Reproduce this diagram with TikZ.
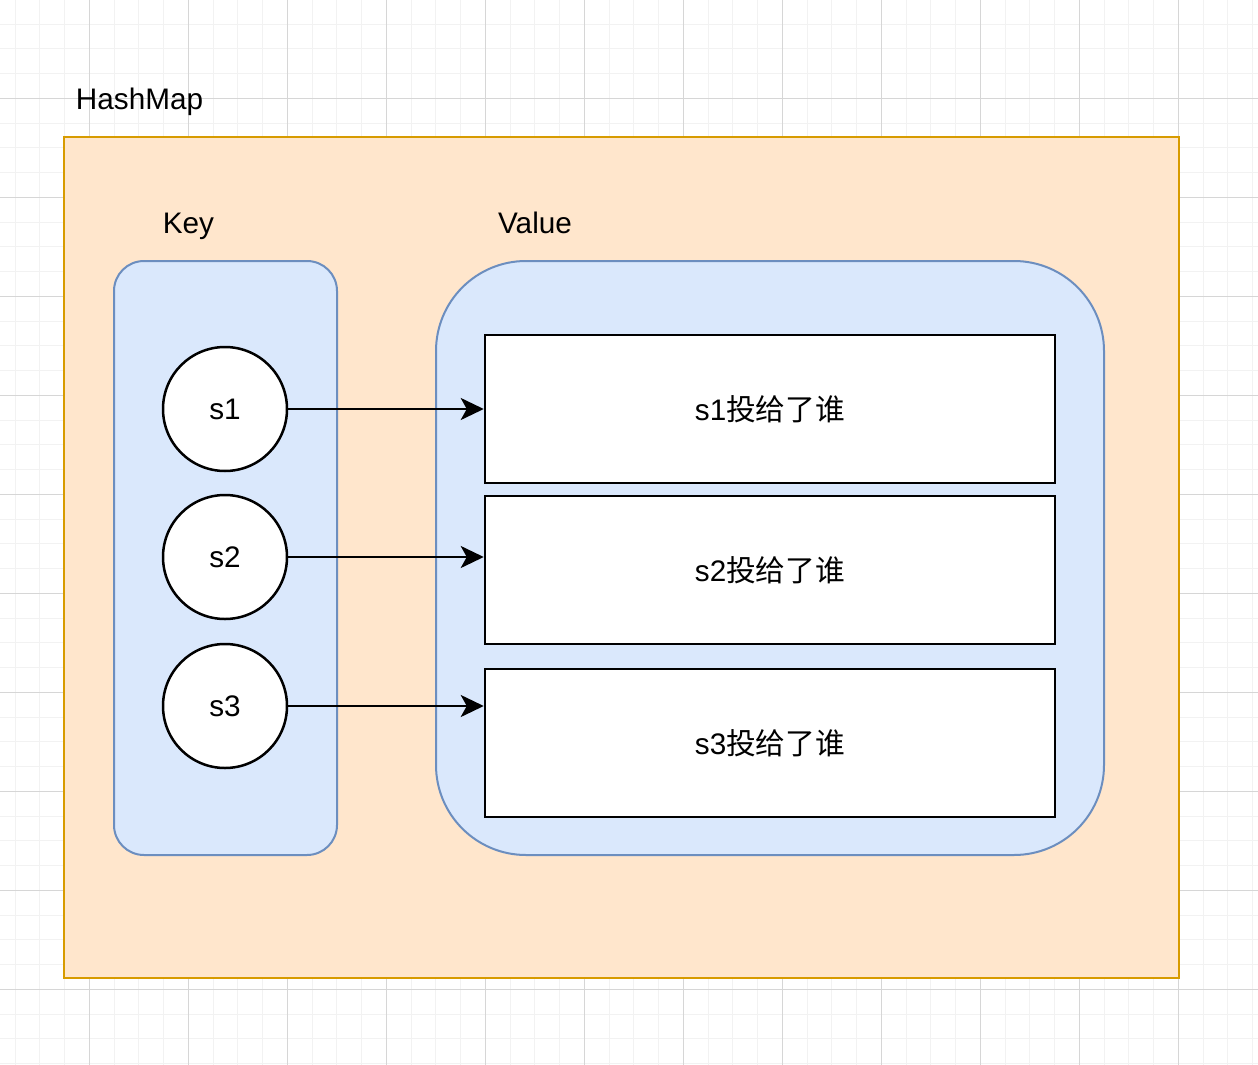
\documentclass[tikz,border=0pt]{standalone}
\usepackage{fontspec}
\setmainfont{Liberation Sans}
\newfontfamily\cjk{Noto Sans CJK SC}
\usetikzlibrary{arrows.meta}

\definecolor{mapfill}{HTML}{FFE6CC}
\definecolor{mapline}{HTML}{D79B00}
\definecolor{colfill}{HTML}{DAE8FC}
\definecolor{colline}{HTML}{6C8EBF}

\tikzset{
  gridminor/.style={draw=black!5, line width=1pt},
  gridmajor/.style={draw=black!16, line width=1pt},
  label text/.style={inner sep=0pt, anchor=base, font=\fontsize{29.7}{36}\selectfont},
  mapbox/.style={draw=mapline, fill=mapfill, line width=2.5pt, inner sep=0pt, outer sep=0pt},
  colbox/.style={draw=colline, fill=colfill, line width=2pt, inner sep=0pt, outer sep=0pt},
  keycircle/.style={draw, fill=white, circle, line width=2.5pt, minimum size=124pt, inner sep=0pt,
    font=\fontsize{29.7}{36}\selectfont},
  valuebox/.style={draw, fill=white, line width=2.5pt, minimum width=570pt, minimum height=148pt,
    inner sep=0pt, font=\fontsize{29.7}{36}\selectfont},
}

\begin{document}
\begin{tikzpicture}[x=1pt, y=-1pt, >={Stealth[length=23pt, width=22pt, inset=6pt]}]
		\useasboundingbox (0,0) rectangle (1258,1065);
		\fill[white] (0,0) rectangle (1258,1065);

		% background grid
		\begin{scope}[shift={(-9.7,-0.7)}]
			\clip (0,0) rectangle (1280,1080);
			\draw[gridminor, step=24.75pt] (0,0) grid (1280,1080);
			\draw[gridmajor, step=99pt] (0,0) grid (1280,1080);
		\end{scope}

		% outer map
		\node[label text] (map_label) at (139.5,109.5) {HashMap};
		\node[mapbox, minimum width=1115pt, minimum height=841pt] (hashmap) at (621.5,557.5) {};

		% key and value columns
		\node[label text] (key_label) at (188.5,233) {Key};
		\node[label text] (value_label) at (535,233) {Value};
		\node[colbox, rounded corners=30pt, minimum width=223pt, minimum height=594pt] (key_col) at (225.5,558) {};
		\node[colbox, rounded corners=90pt, minimum width=668pt, minimum height=594pt] (value_col) at (770,558) {};

		% keys
		\node[keycircle] (s_one) at (225,409) {s1};
		\node[keycircle] (s_two) at (225,557) {s2};
		\node[keycircle] (s_three) at (225,706) {s3};

		% values
		\node[valuebox] (v_one) at (770,409) {s1{\cjk 投给了谁}};
		\node[valuebox] (v_two) at (770,570) {s2{\cjk 投给了谁}};
		\node[valuebox] (v_three) at (770,743) {s3{\cjk 投给了谁}};

		% arrows from keys to values
		\draw[->, line width=2.5pt] (s_one) -- (s_one -| v_one.west);
		\draw[->, line width=2.5pt] (s_two) -- (s_two -| v_two.west);
		\draw[->, line width=2.5pt] (s_three) -- (s_three -| v_three.west);
	\end{tikzpicture}
\end{document}
